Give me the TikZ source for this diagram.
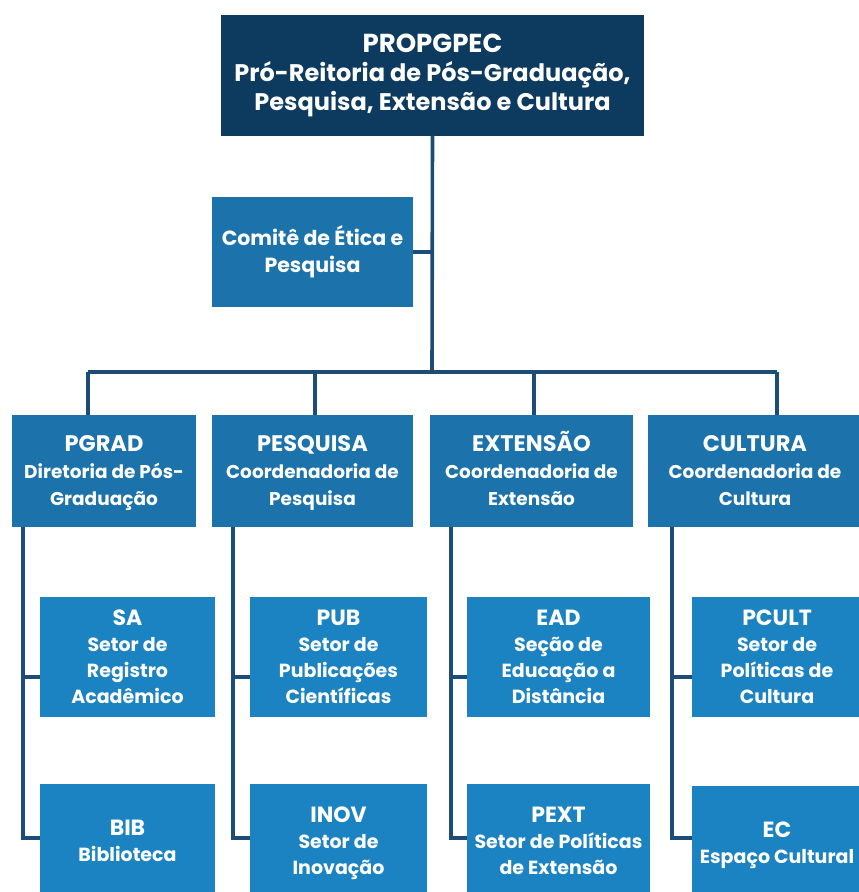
\documentclass[tikz,border=0pt]{standalone}
\usepackage{fontspec}
\setmainfont{Poppins}
\definecolor{navy}{HTML}{0D3B5F}
\definecolor{midblue}{HTML}{1C72AA}
\definecolor{brightblue}{HTML}{1B83C2}
\definecolor{linkblue}{HTML}{1D4C77}
% headings carry a fixed ascender, last lines a fixed descender,
% so every text block in a row is centred the same way
\newcommand{\unithead}[1]{{\fontsize{22.5}{27}\selectfont\vphantom{Ã}#1}}
\newcommand{\subhead}[1]{{\fontsize{22}{26}\selectfont\vphantom{Ã}#1}}
\newcommand{\dsc}{\vphantom{g}}
\begin{document}
\begin{tikzpicture}[x=1pt,y=-1pt,
  box/.style={rectangle, inner sep=0pt, text=white, align=center, font=\bfseries},
  topbox/.style={box, fill=navy, font=\bfseries\fontsize{24}{29}\selectfont},
  unitbox/.style={box, fill=midblue, font=\bfseries\fontsize{18.5}{27}\selectfont},
  subbox/.style={box, fill=brightblue, font=\bfseries\fontsize{19}{26}\selectfont},
  link/.style={draw=linkblue, line width=3.6pt}]
\path[use as bounding box, clip] (0,0) rectangle (859,892);
\fill[white] (0,0) rectangle (859,892);

% top level
\node[topbox, minimum width=423pt, minimum height=121pt] (top) at (432.5,75)
  {{\fontsize{26}{29}\selectfont PROPGPEC}\\Pró-Reitoria de Pós-Graduação,\\Pesquisa, Extensão e Cultura};
\node[unitbox, font=\bfseries\fontsize{20.5}{27}\selectfont,
  minimum width=201pt, minimum height=110pt] (etica) at (312.5,252)
  {Comitê de Ética e\\Pesquisa};

% coordinations
\node[unitbox, minimum width=184pt, minimum height=112pt] (pgrad) at (104,471)
  {\unithead{PGRAD}\\Diretoria de Pós-\\Graduação\dsc};
\node[unitbox, minimum width=201pt, minimum height=112pt] (pesq) at (312.5,471)
  {\unithead{PESQUISA}\\Coordenadoria de\\Pesquisa\dsc};
\node[unitbox, minimum width=203pt, minimum height=112pt] (ext) at (531.5,471)
  {\unithead{EXTENSÃO}\\Coordenadoria de\\Extensão\dsc};
\node[unitbox, minimum width=214pt, minimum height=112pt] (cult) at (755,471)
  {\unithead{CULTURA}\\Coordenadoria de\\Cultura\dsc};

% sectors
\node[subbox, minimum width=175pt, minimum height=120pt] (sa) at (127.5,657)
  {\subhead{SA}\\Setor de\\Registro\\Acadêmico\dsc};
\node[subbox, minimum width=175pt, minimum height=115pt] (bib) at (127.5,841.5)
  {\subhead{BIB}\\Biblioteca\dsc};
\node[subbox, minimum width=177pt, minimum height=120pt] (pub) at (338.5,657)
  {\subhead{PUB}\\Setor de\\Publicações\\Científicas\dsc};
\node[subbox, minimum width=177pt, minimum height=115pt] (inov) at (338.5,841.5)
  {\subhead{INOV}\\Setor de\\Inovação\dsc};
\node[subbox, minimum width=183pt, minimum height=120pt] (ead) at (558.5,657)
  {\subhead{EAD}\\Seção de\\Educação a\\Distância\dsc};
\node[subbox, minimum width=183pt, minimum height=115pt] (pext) at (558.5,841.5)
  {\subhead{PEXT}\\Setor de Políticas\\de Extensão\dsc};
\node[subbox, minimum width=170pt, minimum height=120pt] (pcult) at (777,657)
  {\subhead{PCULT}\\Setor de\\Políticas de\\Cultura\dsc};
\node[subbox, minimum width=170pt, minimum height=115pt] (ec) at (777,843)
  {\subhead{EC}\\Espaço Cultural\dsc};

% bus, drop points and spines
\coordinate (bus) at (432,372);
\coordinate (d1) at (88,372);
\coordinate (d2) at (315,372);
\coordinate (d3) at (534,372);
\coordinate (d4) at (777,372);
\coordinate (s1) at (23,0);
\coordinate (s2) at (233,0);
\coordinate (s3) at (451,0);
\coordinate (s4) at (672,0);

\draw[link] (top.south) -- (bus);
\draw[link] (etica.east) -- (etica.east -| bus);
\draw[link] (d1) -- (d4);
\draw[link] (d1) -- (d1 |- pgrad.north);
\draw[link] (d2) -- (d2 |- pesq.north);
\draw[link] (d3) -- (d3 |- ext.north);
\draw[link] (d4) -- (d4 |- cult.north);

\draw[link] (pgrad.south -| s1) |- ([yshift=-20pt]sa.west);
\draw[link] (pgrad.south -| s1) |- ([yshift=3.5pt]bib.west);
\draw[link] (pesq.south -| s2) |- ([yshift=-20pt]pub.west);
\draw[link] (pesq.south -| s2) |- ([yshift=3.5pt]inov.west);
\draw[link] (ext.south -| s3) |- ([yshift=-20pt]ead.west);
\draw[link] (ext.south -| s3) |- ([yshift=3.5pt]pext.west);
\draw[link] (cult.south -| s4) |- ([yshift=-20pt]pcult.west);
\draw[link] (cult.south -| s4) |- ([yshift=5pt]ec.west);
\end{tikzpicture}
\end{document}
